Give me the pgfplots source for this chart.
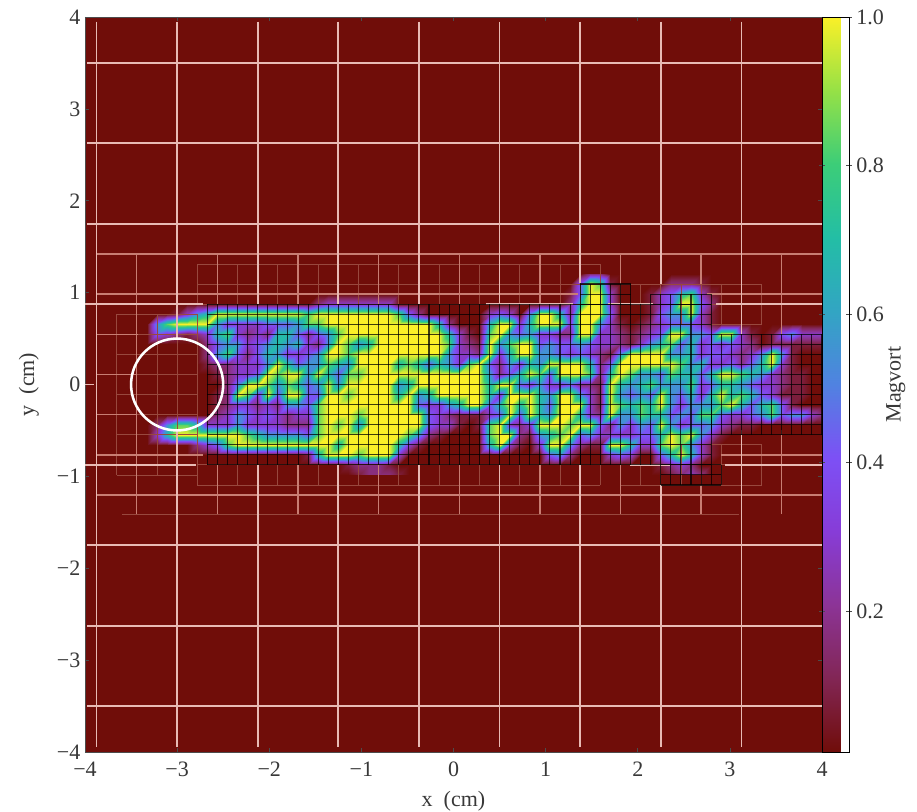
\documentclass[border=0pt]{standalone}
\usepackage{fontspec}
\setmainfont{Liberation Serif}
\usepackage{pgfplots}
\pgfplotsset{compat=1.18}
\pgfplotsset{colormap={magvort}{
 rgb255=(112,13,9) rgb255=(130,38,85) rgb255=(140,52,150) rgb255=(135,60,215)
 rgb255=(125,80,245) rgb255=(80,130,225) rgb255=(50,165,195) rgb255=(35,190,165)
 rgb255=(60,205,120) rgb255=(150,225,70) rgb255=(250,240,40)}}
\definecolor{bgred}{RGB}{112,13,9}
\definecolor{coarse}{RGB}{232,186,180}
\definecolor{medium}{RGB}{200,125,115}
\definecolor{faint}{RGB}{152,72,62}
\definecolor{txt}{gray}{0.22}
\tikzset{
 cl/.style={coarse,line width=1.3pt},
 ml/.style={medium,line width=0.95pt},
 fl/.style={faint,line width=0.6pt},
 bl/.style={black,opacity=0.75,line width=0.8pt}}
% grid block: style, step, y offset, i1,i2 (x=4-step*i), j1,j2 (y=off+step*j)
\newcommand\amr[7]{%
 \foreach \i in {#4,...,#5}{\pgfmathsetmacro\xa{4-#2*\i}%
  \pgfmathsetmacro\ya{#3+#2*#6}\pgfmathsetmacro\yb{#3+#2*#7}%
  \draw[#1] (axis cs:\xa,\ya)--(axis cs:\xa,\yb);}%
 \foreach \j in {#6,...,#7}{\pgfmathsetmacro\ya{#3+#2*\j}%
  \pgfmathsetmacro\xa{4-#2*#4}\pgfmathsetmacro\xb{4-#2*#5}%
  \draw[#1] (axis cs:\xa,\ya)--(axis cs:\xb,\ya);}}
\newcommand\seg[5]{\draw[#1] (axis cs:#2,#3)--(axis cs:#4,#5);}
\begin{document}
\begin{tikzpicture}
\useasboundingbox (-63.75pt,-44.25pt) rectangle (624pt,564pt);
\begin{axis}[
 scale only axis, width=552.75pt, height=551.25pt,
 xmin=-4, xmax=4, ymin=-4, ymax=4,
 xtick={-4,-3,-2,-1,0,1,2,3,4}, ytick={-4,-3,-2,-1,0,1,2,3,4},
 xticklabels={−4,−3,−2,−1,0,1,2,3,4}, yticklabels={−4,−3,−2,−1,0,1,2,3,4},
 axis background/.style={fill=bgred},
 font=\fontsize{16.5}{18}\selectfont,
 ticklabel style={text=txt},
 tick align=inside, major tick length=3pt, tick style={black!70,line width=0.4pt},
 axis line style={black!70,line width=0.5pt},
 xticklabel style={yshift=-4pt},
 yticklabel style={xshift=0pt},
 every axis x label/.style={at={(axis description cs:0.5,0)},anchor=north,yshift=-26pt,text=txt},
 every axis y label/.style={at={(axis description cs:0,0.5)},xshift=-31pt,rotate=90,anchor=south,text=txt},
 xlabel={x\ \ (cm)}, ylabel={y\ \ (cm)},
 colormap name=magvort,
 point meta min=0.01, point meta max=1,
 colorbar,
 colorbar style={
  at={(1,0)}, anchor=south west, xshift=0.6pt,
  width=20.25pt,
  font=\fontsize{16.5}{18}\selectfont,
  ytick={0.2,0.4,0.6,0.8,1.0},
  yticklabels={0.2,0.4,0.6,0.8,1.0},
  yticklabel pos=right,
  ticklabel style={text=txt},
  major tick length=4pt, tick align=center,
  ylabel={Magvort},
  every axis y label/.style={at={(axis description cs:1,0.5)},xshift=35pt,rotate=90,anchor=center,text=txt},
 },
]
\addplot[matrix plot*, shader=interp, mesh/cols=70, mesh/rows=20, point meta=explicit, forget plot]
 table[row sep=crcr, header=false,
  x expr={-3.492+0.109375*mod(\coordindex,70)},
  y expr={1.148-0.109375*floor(\coordindex/70)},
  meta expr={0.01+0.99*min(1,(\thisrowno{0}/8)^1.3)}] {
0\\0\\0\\0\\0\\0\\0\\0\\0\\0\\0\\0\\0\\0\\0\\0\\0\\0\\0\\0\\0\\0\\0\\0\\0\\0\\0\\0\\0\\0\\0\\0\\0\\0\\0\\0\\0\\0\\0\\0\\0\\0\\0\\0\\0\\0\\2\\2\\0\\0\\0\\0\\0\\0\\0\\0\\0\\0\\0\\0\\0\\0\\0\\0\\0\\0\\0\\0\\0\\0\\
0\\0\\0\\0\\0\\0\\0\\0\\0\\0\\0\\0\\0\\0\\0\\0\\0\\0\\0\\0\\0\\0\\0\\0\\0\\0\\0\\0\\0\\0\\0\\0\\0\\0\\0\\0\\0\\0\\0\\0\\0\\0\\0\\0\\0\\4\\8\\7\\1\\0\\0\\0\\0\\0\\2\\2\\2\\1\\0\\0\\0\\0\\0\\0\\0\\0\\0\\0\\0\\0\\
0\\0\\0\\0\\0\\0\\0\\0\\0\\0\\0\\0\\0\\0\\0\\0\\0\\0\\0\\0\\0\\0\\0\\0\\0\\0\\0\\0\\0\\0\\0\\0\\0\\0\\0\\0\\0\\0\\0\\0\\0\\0\\0\\0\\1\\4\\8\\8\\3\\0\\0\\0\\1\\3\\4\\6\\7\\3\\1\\0\\0\\0\\0\\0\\0\\0\\0\\0\\0\\0\\
0\\0\\0\\0\\0\\0\\0\\0\\0\\0\\0\\0\\0\\0\\0\\0\\0\\0\\0\\2\\3\\3\\3\\3\\3\\3\\3\\0\\0\\0\\0\\0\\0\\0\\0\\0\\0\\0\\0\\0\\0\\0\\0\\0\\2\\6\\9\\9\\3\\0\\0\\0\\1\\3\\4\\8\\9\\4\\2\\0\\0\\0\\0\\0\\0\\0\\0\\0\\0\\0\\
0\\0\\0\\0\\0\\1\\3\\5\\6\\8\\9\\9\\9\\9\\9\\9\\9\\8\\7\\9\\9\\9\\9\\9\\9\\9\\9\\7\\4\\2\\0\\0\\0\\0\\0\\0\\3\\4\\3\\0\\5\\9\\9\\6\\2\\8\\8\\9\\4\\0\\0\\0\\1\\4\\5\\5\\8\\3\\1\\0\\0\\0\\0\\0\\0\\0\\0\\0\\0\\0\\
0\\0\\0\\5\\7\\9\\9\\9\\8\\5\\3\\3\\3\\3\\4\\4\\4\\5\\7\\7\\9\\8\\9\\9\\9\\9\\9\\9\\9\\9\\8\\6\\2\\0\\0\\0\\6\\9\\8\\3\\6\\8\\8\\8\\3\\8\\9\\5\\3\\1\\0\\1\\2\\3\\4\\4\\4\\3\\1\\0\\0\\0\\0\\0\\0\\0\\0\\0\\0\\0\\
0\\0\\0\\4\\3\\2\\1\\2\\3\\6\\7\\3\\2\\3\\2\\6\\6\\4\\2\\4\\5\\7\\9\\9\\8\\9\\9\\9\\9\\9\\9\\8\\6\\3\\1\\0\\7\\8\\5\\4\\5\\3\\3\\2\\2\\9\\9\\3\\3\\2\\1\\2\\3\\4\\8\\8\\5\\5\\4\\8\\8\\3\\1\\0\\1\\4\\5\\3\\3\\3\\
0\\0\\0\\0\\0\\0\\0\\0\\2\\4\\5\\5\\3\\4\\5\\6\\5\\6\\3\\2\\5\\8\\7\\5\\6\\9\\9\\9\\9\\9\\9\\9\\7\\3\\2\\1\\8\\5\\7\\9\\8\\4\\5\\4\\4\\5\\4\\3\\3\\2\\1\\3\\5\\6\\7\\4\\6\\3\\4\\3\\4\\3\\2\\0\\1\\1\\1\\1\\1\\1\\
0\\0\\0\\0\\0\\0\\0\\0\\2\\5\\7\\4\\2\\4\\6\\5\\3\\3\\4\\5\\8\\9\\7\\8\\9\\9\\9\\9\\9\\9\\9\\8\\5\\3\\3\\2\\8\\3\\6\\8\\9\\5\\5\\4\\3\\4\\3\\2\\1\\5\\8\\8\\8\\8\\5\\5\\6\\3\\4\\4\\3\\2\\3\\5\\8\\5\\1\\0\\0\\0\\
0\\0\\0\\0\\0\\0\\0\\0\\1\\2\\2\\3\\3\\3\\5\\9\\6\\4\\5\\5\\7\\6\\5\\9\\9\\9\\8\\6\\7\\6\\4\\6\\5\\3\\7\\9\\4\\2\\5\\3\\6\\5\\8\\8\\9\\9\\6\\2\\4\\9\\9\\9\\9\\9\\9\\7\\5\\6\\3\\3\\4\\2\\4\\6\\8\\3\\1\\0\\0\\0\\
0\\0\\0\\0\\0\\0\\0\\0\\0\\1\\2\\3\\3\\4\\8\\7\\8\\8\\5\\8\\6\\4\\7\\7\\9\\9\\8\\9\\9\\9\\9\\9\\9\\8\\9\\9\\5\\2\\4\\6\\9\\7\\4\\9\\9\\9\\7\\2\\6\\8\\7\\5\\5\\4\\7\\6\\6\\4\\6\\8\\9\\7\\6\\5\\3\\2\\1\\1\\0\\0\\
0\\0\\0\\0\\0\\0\\0\\0\\0\\0\\2\\5\\9\\8\\7\\5\\7\\6\\4\\5\\8\\5\\9\\9\\9\\9\\9\\5\\6\\9\\9\\9\\9\\8\\9\\9\\6\\9\\9\\4\\3\\5\\3\\3\\4\\2\\2\\1\\8\\6\\5\\6\\7\\5\\5\\5\\7\\3\\4\\6\\6\\5\\4\\3\\3\\2\\1\\1\\0\\0\\
0\\0\\0\\0\\0\\0\\0\\0\\0\\1\\2\\8\\7\\3\\8\\4\\8\\8\\4\\4\\8\\9\\7\\9\\9\\9\\9\\6\\8\\5\\6\\9\\9\\9\\9\\9\\6\\3\\9\\8\\9\\6\\5\\9\\9\\5\\3\\1\\9\\5\\4\\5\\4\\9\\5\\4\\6\\3\\6\\9\\6\\7\\6\\4\\3\\1\\1\\1\\0\\0\\
0\\0\\0\\0\\0\\0\\0\\0\\0\\1\\2\\3\\3\\2\\3\\2\\5\\5\\4\\7\\9\\8\\9\\9\\9\\8\\9\\9\\9\\4\\3\\3\\5\\6\\8\\8\\4\\6\\9\\6\\9\\6\\4\\9\\9\\8\\3\\1\\9\\7\\6\\7\\6\\8\\5\\3\\5\\5\\5\\7\\9\\6\\4\\6\\7\\4\\1\\0\\0\\0\\
0\\0\\0\\0\\0\\0\\0\\0\\0\\2\\3\\5\\4\\3\\4\\3\\2\\3\\3\\7\\9\\9\\8\\7\\9\\9\\9\\9\\9\\8\\4\\3\\2\\1\\1\\1\\3\\4\\9\\4\\8\\6\\5\\8\\9\\6\\3\\2\\8\\5\\5\\7\\6\\6\\4\\5\\4\\7\\7\\4\\3\\3\\4\\5\\7\\4\\5\\5\\3\\2\\
0\\0\\0\\2\\5\\7\\7\\6\\3\\3\\3\\5\\3\\3\\3\\3\\2\\2\\2\\7\\9\\7\\9\\5\\8\\9\\9\\9\\8\\8\\4\\3\\3\\1\\0\\1\\7\\8\\3\\2\\3\\9\\9\\9\\7\\9\\8\\4\\2\\5\\3\\5\\4\\8\\5\\3\\4\\4\\5\\3\\2\\1\\1\\0\\0\\0\\0\\0\\0\\0\\
0\\0\\0\\3\\6\\8\\9\\9\\9\\9\\9\\8\\7\\6\\5\\5\\5\\5\\4\\7\\9\\8\\9\\8\\9\\9\\9\\9\\7\\5\\2\\1\\0\\0\\0\\0\\7\\9\\8\\2\\1\\5\\6\\7\\9\\4\\5\\3\\3\\3\\3\\4\\4\\6\\8\\7\\8\\5\\3\\1\\0\\0\\0\\0\\0\\0\\0\\0\\0\\0\\
0\\0\\0\\0\\0\\0\\0\\2\\3\\4\\7\\8\\9\\9\\9\\9\\9\\9\\9\\9\\9\\6\\8\\9\\9\\9\\9\\6\\3\\1\\0\\0\\0\\0\\0\\0\\6\\8\\3\\1\\0\\3\\8\\8\\5\\2\\1\\1\\8\\9\\6\\3\\3\\7\\9\\7\\5\\3\\1\\0\\0\\0\\0\\0\\0\\0\\0\\0\\0\\0\\
0\\0\\0\\0\\0\\0\\0\\0\\0\\0\\0\\0\\0\\0\\0\\0\\0\\0\\1\\6\\9\\9\\8\\7\\8\\9\\8\\3\\0\\0\\0\\0\\0\\0\\0\\0\\0\\0\\0\\0\\0\\0\\4\\5\\2\\0\\0\\0\\3\\4\\3\\0\\0\\4\\6\\8\\6\\3\\1\\0\\0\\0\\0\\0\\0\\0\\0\\0\\0\\0\\
0\\0\\0\\0\\0\\0\\0\\0\\0\\0\\0\\0\\0\\0\\0\\0\\0\\0\\0\\0\\0\\0\\1\\2\\2\\2\\1\\0\\0\\0\\0\\0\\0\\0\\0\\0\\0\\0\\0\\0\\0\\0\\0\\0\\0\\0\\0\\0\\0\\0\\0\\0\\0\\1\\2\\3\\2\\0\\0\\0\\0\\0\\0\\0\\0\\0\\0\\0\\0\\0\\
};
\pgfplotsextra{
 % faint level
 \amr{fl}{0.21875}{0.109375}{31}{35}{-5}{3}
 \amr{fl}{0.21875}{0}{11}{31}{4}{6}
 \amr{fl}{0.21875}{0}{11}{31}{-5}{-4}
 \amr{fl}{0.21875}{0}{3}{10}{3}{5}
 \amr{fl}{0.21875}{0}{3}{10}{-5}{-3}
 % medium verticals
 \foreach \x/\ya/\yb in {-3.4375/1.42/-1.41}{\seg{ml}{\x}{\ya}{\x}{\yb}}
 \foreach \x/\ya/\yb in {-2.5625/1.42/0.875,-2.5625/-0.875/-1.41,-1.6875/1.42/0.875,-1.6875/-0.875/-1.41,-0.8125/1.42/0.875,-0.8125/-0.875/-1.41,0.0625/1.42/0.875,0.0625/-0.875/-1.41,0.9375/1.42/0.875,0.9375/-0.875/-1.41,1.8125/1.42/1.09,1.8125/-0.875/-1.41,2.6875/1.42/1.09,2.6875/-1.09/-1.41,3.5625/1.42/0.55,3.5625/-0.5/-1.41}{\seg{ml}{\x}{\ya}{\x}{\yb}}
 % medium horizontals
 \seg{ml}{-3.875}{1.42}{4}{1.42}
 \seg{ml}{-3.875}{0.984}{1.35}{0.984}
 \seg{ml}{2.75}{0.984}{4}{0.984}
 \seg{ml}{-3.875}{0.547}{-3.42}{0.547}
 \seg{ml}{-3.875}{0.109}{-3.45}{0.109}
 \seg{ml}{-3.875}{-0.328}{-3.45}{-0.328}
 \seg{ml}{-3.875}{-0.766}{-2.72}{-0.766}
 \seg{ml}{2.9}{-0.766}{4}{-0.766}
 \seg{ml}{-3.875}{-1.203}{4}{-1.203}
 \seg{fl}{-3.6}{-1.41}{3.1}{-1.41}
 % coarse
 \foreach \y in {3.5,2.625,1.75,-1.75,-2.625,-3.5}{\seg{cl}{-3.98}{\y}{4}{\y}}
 \seg{cl}{-4}{0.875}{-2.72}{0.875}
 \seg{cl}{0.35}{0.875}{1.3}{0.875}
 \seg{cl}{1.68}{0.875}{2.17}{0.875}
 \seg{cl}{2.85}{0.875}{4}{0.875}
 \seg{cl}{-4}{-0.875}{-2.8}{-0.875}
 \seg{cl}{1.92}{-0.875}{2.35}{-0.875}
 \seg{cl}{2.95}{-0.875}{4}{-0.875}
 \seg{cl}{-4}{0}{-3.9}{0}
 \seg{cl}{-3.875}{3.95}{-3.875}{-3.95}
 \foreach \x/\ya/\yb in {-3/3.95/0.5,-3/-0.5/-3.95,-2.125/3.95/0.875,-2.125/-0.875/-3.95,-1.25/3.95/0.875,-1.25/-0.875/-3.95,-0.375/3.95/0.875,-0.375/-0.875/-3.95,0.5/3.95/0.875,0.5/-0.875/-3.95,1.375/3.95/1.1,1.375/-0.875/-3.95,2.25/3.95/1.09,2.25/-1.09/-3.95,3.125/3.95/0.55,3.125/-0.5/-3.95}{\seg{cl}{\x}{\ya}{\x}{\yb}}
 % finest level
 \amr{bl}{0.109375}{0}{0}{11}{-5}{5}
 \amr{bl}{0.109375}{0}{11}{24}{-8}{8}
 \amr{bl}{0.109375}{0}{11}{17}{8}{9}
 \amr{bl}{0.109375}{0}{10}{16}{-10}{-8}
 \amr{bl}{0.109375}{0}{19}{24}{8}{10}
 \amr{bl}{0.109375}{0}{24}{61}{-8}{8}
 % cylinder
 \draw[white,line width=1.9pt] (axis cs:-3,0) circle[radius=0.5];
}
\end{axis}
\end{tikzpicture}
\end{document}
